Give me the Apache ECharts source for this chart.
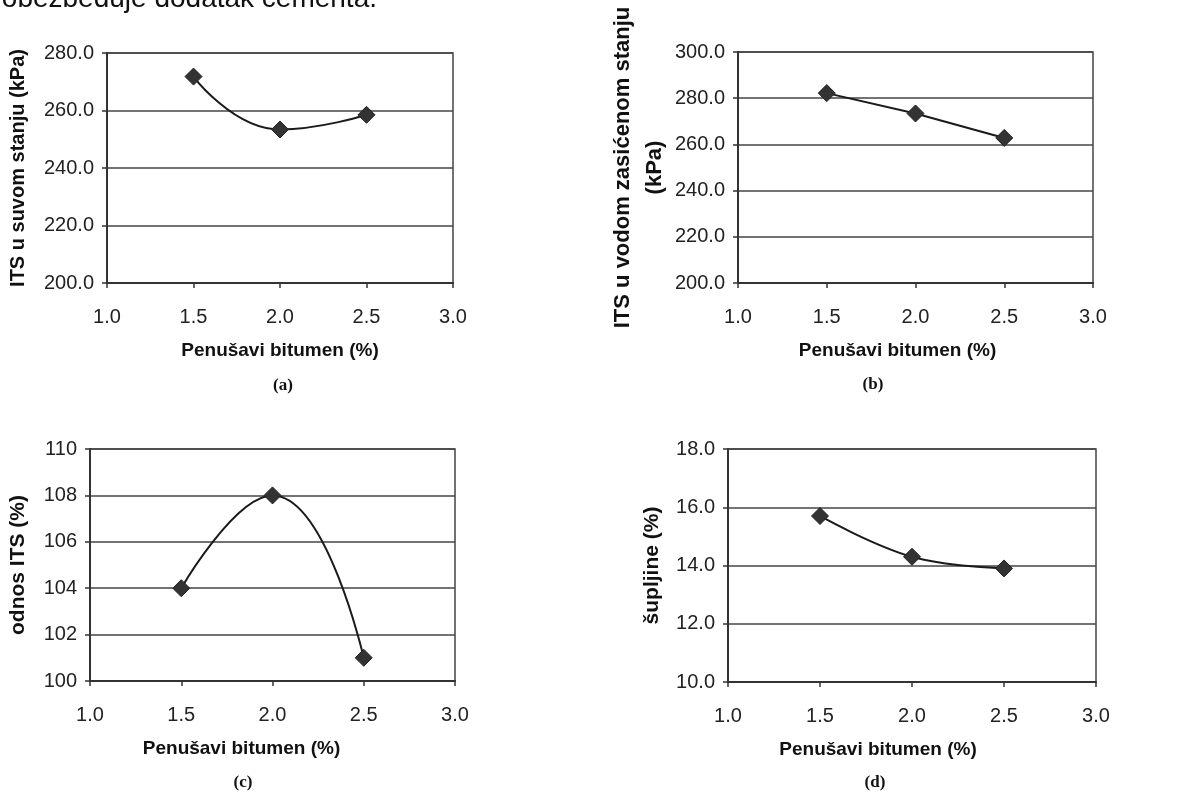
<!DOCTYPE html>
<html>
<head>
<meta charset="utf-8">
<script src="https://cdn.jsdelivr.net/npm/echarts@6/dist/echarts.min.js"></script>
<style>
  html, body { margin: 0; padding: 0; background: #fff; }
  #chart { width: 1181px; height: 792px; }
</style>
</head>
<body>
<div id="chart"></div>
<script>
// bitumen content (%) – same for all four panels
const bitumen = [1.5, 2.0, 2.5]

const itsDry = [271.8, 253.4, 258.5]      // (a)
const itsWet = [282.2, 273.4, 262.8]      // (b)
const itsRatio = [104.0, 108.0, 101.0]    // (c)
const voids = [15.7, 14.3, 13.9]          // (d)

const xTitle = 'Penušavi bitumen (%)'
const yTitles = ['ITS u suvom stanju (kPa)', 'ITS u vodom zasićenom stanju\n(kPa)', 'odnos ITS (%)', 'šupljine (%)']
const captions = ['(a)', '(b)', '(c)', '(d)']

const font = 'Arial, "Liberation Sans", sans-serif'
const ink = '#222'

const grids = [
  { left: 107, top: 53, width: 346, height: 230 },
  { left: 738, top: 52, width: 355, height: 231 },
  { left: 90, top: 449, width: 365, height: 232 },
  { left: 728, top: 449, width: 368, height: 233 }
]

const yRanges = [
  { min: 200, max: 280, interval: 20, digits: 1, gap: 73, nameSize: 20 },
  { min: 200, max: 300, interval: 20, digits: 1, gap: 66, nameSize: 22 },
  { min: 100, max: 110, interval: 2, digits: 0, gap: 56, nameSize: 21 },
  { min: 10, max: 18, interval: 2, digits: 1, gap: 60, nameSize: 21 }
]

// shift of the x axis title to the left (px * 2 as right padding)
const xNameShift = [0, 36, 62, 68]

function pairs(ys) {
  return bitumen.map((x, i) => [x, ys[i]])
}

const chart = echarts.init(document.getElementById('chart'))

chart.setOption({
  animation: false,
  backgroundColor: '#fff',
  grid: grids.map(g => Object.assign({ show: true, borderColor: '#444', borderWidth: 1.5 }, g)),
  xAxis: grids.map((g, i) => ({
    gridIndex: i,
    type: 'value',
    min: 1,
    max: 3,
    interval: 0.5,
    name: xTitle,
    nameLocation: 'middle',
    nameGap: 58,
    nameTextStyle: {
      fontFamily: font, fontSize: 19, fontWeight: 'bold', color: '#111',
      padding: [0, xNameShift[i], 0, 0]
    },
    axisLine: { show: true, lineStyle: { color: '#333', width: 2 } },
    axisTick: { show: true, inside: false, length: 5, lineStyle: { color: '#333', width: 1.5 } },
    axisLabel: {
      fontFamily: font, fontSize: 20, color: ink, margin: 24,
      formatter: v => v.toFixed(1)
    },
    splitLine: { show: false }
  })),
  yAxis: yRanges.map((r, i) => ({
    gridIndex: i,
    type: 'value',
    min: r.min,
    max: r.max,
    interval: r.interval,
    name: yTitles[i],
    nameLocation: 'middle',
    nameGap: r.gap,
    nameRotate: 90,
    nameTextStyle: { fontFamily: font, fontSize: r.nameSize, fontWeight: 'bold', color: '#111', lineHeight: 32 },
    axisLine: { show: true, lineStyle: { color: '#333', width: 2 } },
    axisTick: { show: true, inside: false, length: 5, lineStyle: { color: '#333', width: 1.5 } },
    axisLabel: {
      fontFamily: font, fontSize: 20, color: ink, margin: 13,
      formatter: v => v.toFixed(r.digits)
    },
    splitLine: { show: true, lineStyle: { color: '#444', width: 1.5 } }
  })),
  series: [
    { data: pairs(itsDry), smooth: 0.5 },
    { data: pairs(itsWet), smooth: false },
    { data: pairs(itsRatio), smooth: 0.5 },
    { data: pairs(voids), smooth: 0.4 }
  ].map((s, i) => Object.assign({
    type: 'line',
    xAxisIndex: i,
    yAxisIndex: i,
    symbol: 'diamond',
    symbolSize: 17,
    lineStyle: { color: '#1a1a1a', width: 2 },
    itemStyle: { color: '#333', borderColor: '#222', borderWidth: 1 }
  }, s)),
  graphic: [
    {
      type: 'text', x: 377, y: 13,
      style: {
        text: 'obezbeđuje dodatak cementa.',
        font: '28px ' + font, fill: '#111',
        textAlign: 'right', textVerticalAlign: 'bottom'
      }
    },
    { x: 283, y: 386 }, { x: 873, y: 385 }, { x: 243, y: 783 }, { x: 875, y: 783 }
  ].map((g, i) => i === 0 ? g : {
    type: 'text', x: g.x, y: g.y,
    style: {
      text: captions[i - 1],
      font: 'bold 17px "Liberation Serif", "Times New Roman", serif',
      fill: '#111', textAlign: 'center', textVerticalAlign: 'middle'
    }
  })
})
</script>
</body>
</html>
